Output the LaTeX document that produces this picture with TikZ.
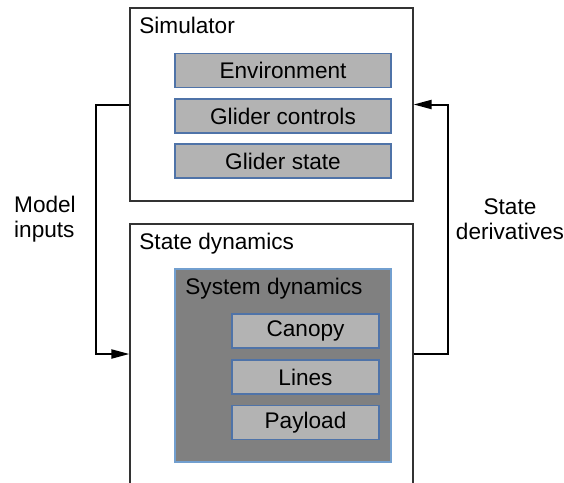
\documentclass[tikz,border=0pt]{standalone}
\usepackage{fontspec}
\setmainfont{Liberation Sans}
\usetikzlibrary{arrows.meta}
\definecolor{partfill}{HTML}{B3B3B3}
\definecolor{partline}{HTML}{4F73A8}
\definecolor{groupfill}{HTML}{808080}
\definecolor{groupline}{HTML}{729FCF}
\begin{document}
\begin{tikzpicture}[x=0.5pt,y=-0.5pt,
    every node/.style={font=\fontsize{11.3}{12.5}\selectfont},
    block/.style={draw=black!80,line width=0.6pt,fill=white,inner sep=0pt},
    part/.style={draw=partline,line width=0.6pt,fill=partfill,minimum height=17pt,inner sep=0pt},
    group/.style={draw=groupline,line width=0.6pt,fill=groupfill,inner sep=0pt},
    title/.style={anchor=base west,inner sep=0pt},
    conn/.style={line width=1pt,-{Triangle[length=9pt,width=4.5pt]}}]
    % Cornice e ritaglio
    \useasboundingbox (0,0) rectangle (564,483);
    \clip (0,0) rectangle (564,483);

    % Blocco simulatore
    \node[block,minimum width=141.5pt,minimum height=96.5pt] (sim) at (271.5,104.5) {};
    \node[title] (simtitle) at (139,33) {Simulator};
    \node[part,minimum width=108pt] (env) at (283,70.5) {Environment};
    \node[part,minimum width=108pt] (ctrl) at (283,116) {Glider controls};
    \node[part,minimum width=108pt] (gstate) at (283,161) {Glider state};

    % Blocco dinamica dello stato
    \node[block,minimum width=141.5pt,minimum height=130pt] (stdyn) at (271.5,354) {};
    \node[title] (stdyntitle) at (139,249) {State dynamics};
    \node[group,minimum width=108pt,minimum height=96.5pt] (sysdyn) at (283,365.5) {};
    \node[title] (sysdyntitle) at (185,294) {System dynamics};
    \node[part,minimum width=73.5pt] (canopy) at (305.5,331) {Canopy};
    \node[part,minimum width=73.5pt] (lines) at (305.5,377) {Lines};
    \node[part,minimum width=73.5pt] (payload) at (305.5,422.5) {Payload};

    % Collegamenti
    \coordinate (lbend) at (96,105);
    \coordinate (rbend) at (448,354);
    \draw[conn] (sim.west) -- (sim.west -| lbend) |- (stdyn.west);
    \draw[conn] (stdyn.east) -- (stdyn.east -| rbend) |- (sim.east);

    % Etichette
    \node[align=left,inner sep=0pt] (inlabel) at (45,219) {Model\\inputs};
    \node[align=center,inner sep=0pt] (derlabel) at (510,219) {State\\derivatives};
\end{tikzpicture}
\end{document}
